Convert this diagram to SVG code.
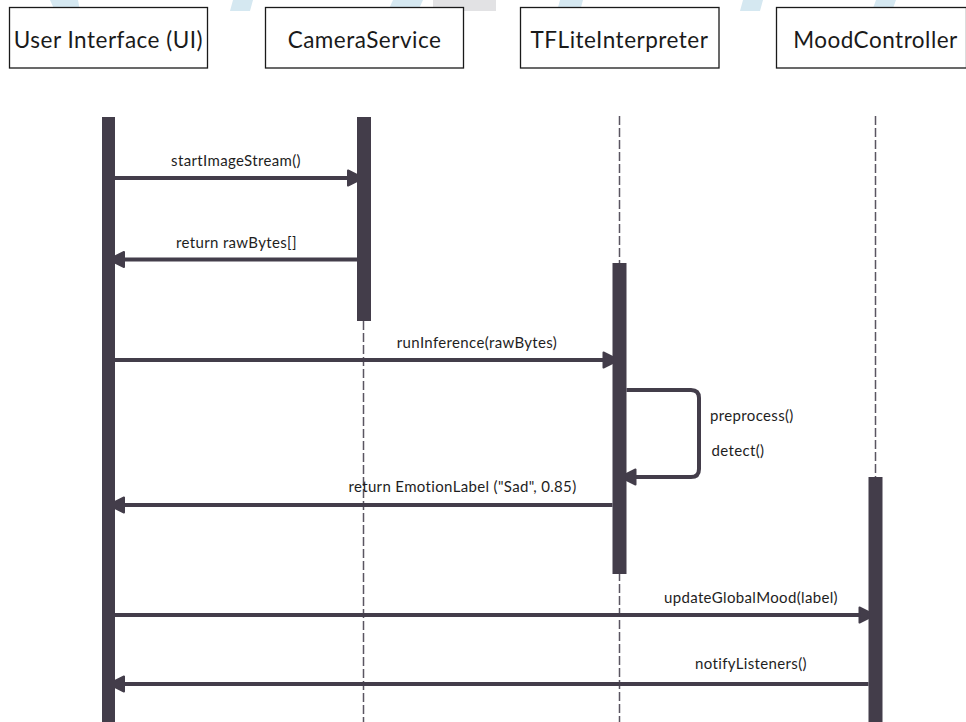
<svg xmlns="http://www.w3.org/2000/svg" width="966" height="722" viewBox="0 0 966 722">
<style>
.bg{fill:#d5e8f1}
.bgg{fill:#e2e2e4}
.box{fill:#ffffff;stroke:#1a1a1a;stroke-width:1.3}
.head{font-family:Lato,"Open Sans",sans-serif;font-size:22.5px;letter-spacing:0.5px;fill:#1a1a1a;text-anchor:middle}
.bar{fill:#433d4a}
.life{stroke:#5a5561;stroke-width:1.5;stroke-dasharray:9 3;fill:none}
.msg{stroke:#433d4a;stroke-width:4;fill:none}
.lbl{font-family:Lato,"Open Sans",sans-serif;font-size:15px;letter-spacing:0.35px;fill:#1e1e1e;text-anchor:middle}
.lbll{font-family:Lato,"Open Sans",sans-serif;font-size:15px;letter-spacing:0.35px;fill:#1e1e1e}
</style>
<defs>
<marker id="ah" markerUnits="userSpaceOnUse" viewBox="-12 -10 14 20" refX="0" refY="0" markerWidth="14" markerHeight="20" orient="auto">
<path d="M-9,-7.5 L0,-3 L0,3 L-9,7.5 Z" fill="#433d4a" stroke="#433d4a" stroke-width="2" stroke-linejoin="round"/>
</marker>
</defs>
<rect width="966" height="722" fill="#ffffff"/>
<g id="watermark">
<polygon class="bg" points="50,0 78,0 80,11 55,11"/>
<polygon class="bg" points="233,0 253,0 250,11 230,11"/>
<polygon class="bg" points="393,0 423,0 418,11 388,11"/>
<rect class="bgg" x="433" y="0" width="63" height="11"/>
<polygon class="bg" points="560,0 583,0 580,11 557,11"/>
<polygon class="bg" points="743,0 763,0 760,11 740,11"/>
<polygon class="bg" points="876,0 896,0 892,11 872,11"/>
</g>
<g id="ui">
<rect class="box" x="9.5" y="7.5" width="198" height="60.5"/>
<text class="head" x="108.5" y="47.5">User Interface (UI)</text>
<rect class="bar" x="102" y="117" width="13" height="605"/>
</g>
<g id="camera">
<rect class="box" x="265.5" y="7.5" width="198" height="60.5"/>
<text class="head" x="364.5" y="47.5">CameraService</text>
<line class="life" x1="363.5" y1="321" x2="363.5" y2="722"/>
<rect class="bar" x="357" y="117" width="14" height="204"/>
</g>
<g id="tflite">
<rect class="box" x="520.5" y="7.5" width="198.5" height="60.5"/>
<text class="head" x="619.5" y="47.5">TFLiteInterpreter</text>
<line class="life" x1="619.5" y1="116" x2="619.5" y2="722"/>
<rect class="bar" x="612.5" y="263" width="14" height="311"/>
</g>
<g id="mood">
<rect class="box" x="776.5" y="7.5" width="190" height="60.5"/>
<text class="head" x="875.5" y="47.5">MoodController</text>
<line class="life" x1="875.5" y1="116" x2="875.5" y2="722"/>
<rect class="bar" x="868.5" y="477" width="14" height="245"/>
</g>
<g id="connectors">
<line class="msg" x1="115" y1="178" x2="357" y2="178" marker-end="url(#ah)"/>
<text class="lbl" x="236" y="166">startImageStream()</text>
<line class="msg" x1="357" y1="259.5" x2="115" y2="259.5" marker-end="url(#ah)"/>
<text class="lbl" x="236.5" y="247.5">return rawBytes[]</text>
<line class="msg" x1="115" y1="360" x2="612.5" y2="360" marker-end="url(#ah)"/>
<text class="lbl" x="477" y="347.5">runInference(rawBytes)</text>
<path class="msg" d="M626.5,390 H691 Q699,390 699,398 V469 Q699,477 691,477 H626.5" marker-end="url(#ah)"/>
<text class="lbll" x="710" y="421">preprocess()</text>
<text class="lbll" x="711.5" y="456">detect()</text>
<line class="msg" x1="612.5" y1="505" x2="115" y2="505" marker-end="url(#ah)"/>
<text class="lbl" x="462.5" y="492">return EmotionLabel ("Sad", 0.85)</text>
<line class="msg" x1="115" y1="615" x2="868.5" y2="615" marker-end="url(#ah)"/>
<text class="lbl" x="751" y="602.5">updateGlobalMood(label)</text>
<line class="msg" x1="868.5" y1="684" x2="115" y2="684" marker-end="url(#ah)"/>
<text class="lbl" x="751" y="668.5">notifyListeners()</text>
</g>
</svg>
